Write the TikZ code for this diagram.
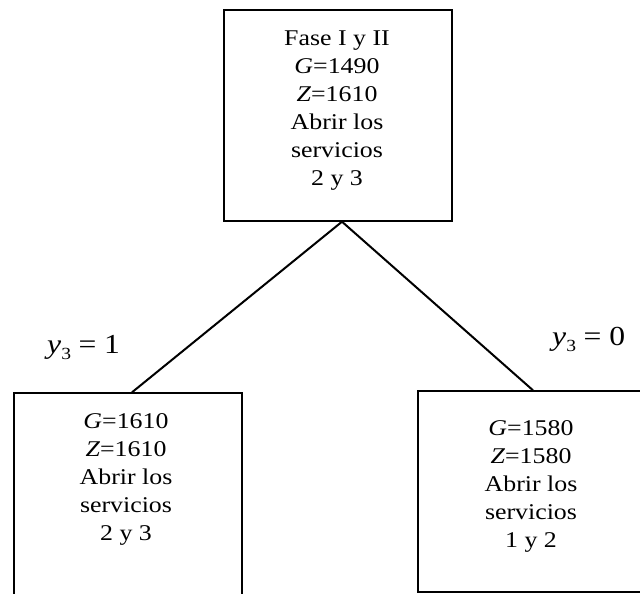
\documentclass[tikz,border=0pt]{standalone}
\usepackage{fontspec}
\setmainfont[FakeStretch=1.15]{Liberation Serif}
\begin{document}
\begin{tikzpicture}[x=1pt,y=-1pt,
  box/.style={draw, line width=1.4pt, rectangle, inner sep=0pt},
  txt/.style={font=\fontsize{22.5}{28}\selectfont, align=center, inner sep=0pt, anchor=north},
  lbl/.style={font=\fontsize{27.5}{30}\selectfont, inner sep=0pt, anchor=base west},
  edge/.style={line width=2pt}]
\useasboundingbox (0,0) rectangle (640,594);
% boxes
\node[box, minimum width=228pt, minimum height=211pt] (top) at (338,115.5) {};
\node[box, minimum width=228pt, minimum height=203pt] (lb) at (128,494.5) {};
\node[box, minimum width=228pt, minimum height=201pt] (rb) at (532,491.5) {};
% texts
\node[txt] (toptext) at (337,30.5) {Fase I y II\\\textit{G}=1490\\\textit{Z}=1610\\Abrir los\\servicios\\2 y 3};
\node[txt] (lbtext) at (126,413.5) {\textit{G}=1610\\\textit{Z}=1610\\Abrir los\\servicios\\2 y 3};
\node[txt] (rbtext) at (531,420.5) {\textit{G}=1580\\\textit{Z}=1580\\Abrir los\\servicios\\1 y 2};
% connectors
\draw[edge] ([xshift=4pt]top.south) -- ([xshift=4pt]lb.north);
\draw[edge] ([xshift=4pt]top.south) -- ([xshift=1pt]rb.north);
% labels
\node[lbl] (l1) at (47,353) {\textit{y}\raisebox{-0.22em}{\fontsize{17}{17}\selectfont 3}\hspace{0.28em}=\hspace{0.28em}1};
\node[lbl] (l0) at (552,345) {\textit{y}\raisebox{-0.22em}{\fontsize{17}{17}\selectfont 3}\hspace{0.28em}=\hspace{0.28em}0};
\end{tikzpicture}
\end{document}
